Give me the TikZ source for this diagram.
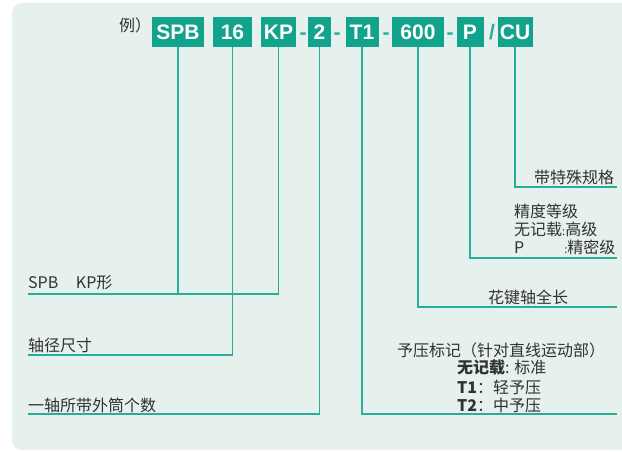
\documentclass[tikz,border=0pt]{standalone}
\usepackage{fontspec}
\setmainfont{Noto Sans CJK SC}
\newfontfamily\codefont{Liberation Sans}
\definecolor{bgcol}{RGB}{230,240,237}
\definecolor{boxcol}{RGB}{18,163,140}
\definecolor{leadcol}{RGB}{38,174,154}
\definecolor{txtcol}{RGB}{50,50,50}
\begin{document}
\begin{tikzpicture}[x=1pt, y=-1pt,
  codebox/.style={fill=boxcol, text=white, font=\codefont\bfseries\fontsize{21}{21}\selectfont, minimum height=30pt, inner xsep=1pt, text height=15pt, text depth=0pt},
  sep/.style={text=leadcol, font=\codefont\bfseries\fontsize{21}{21}\selectfont, inner sep=0pt, anchor=base},
  lbl/.style={text=txtcol, font=\fontsize{16}{18}\selectfont, inner sep=0pt, anchor=west},
  lead/.style={draw=leadcol, line width=1.3pt}]
\clip (0,0) rectangle (622,452);
\useasboundingbox (0,0) rectangle (622,452);
\fill[bgcol, rounded corners=10pt] (12,3) rectangle (640,450);

\node (ex) at (119,25) [lbl] {例）};
\node (spb) at (178,32) [codebox, minimum width=52pt] {SPB};
\node (n16) at (232.5,32) [codebox, minimum width=39pt] {16};
\node (kp) at (278.5,32) [codebox, minimum width=35pt] {KP};
\node (n2) at (319.5,32) [codebox, minimum width=23pt] {2};
\node (t1) at (362,32) [codebox, minimum width=33pt] {T1};
\node (n600) at (418,32) [codebox, minimum width=52pt] {600};
\node (p) at (470,32) [codebox, minimum width=27pt] {P};
\node (cu) at (515,32) [codebox, minimum width=35pt] {CU};

\node (s1) at (303,39.5) [sep] {-};
\node (s2) at (337,39.5) [sep] {-};
\node (s3) at (386,39.5) [sep] {-};
\node (s4) at (450,39.5) [sep] {-};
\node (s5) at (492,39.5) [sep] {/};

\coordinate (kpend) at (28,294);
\coordinate (diaend) at (28,355);
\coordinate (numend) at (28,414);
\coordinate (preend) at (617,414);
\coordinate (lenend) at (617,307);
\coordinate (accend) at (617,258);
\coordinate (cuend) at (617,187);

\draw[lead] (spb.south) -- (spb.south |- kpend);
\draw[lead] (kp.south) |- (kpend);
\draw[lead] (n16.south) |- (diaend);
\draw[lead] (n2.south) |- (numend);
\draw[lead] (t1.south) |- (preend);
\draw[lead] (n600.south) |- (lenend);
\draw[lead] (p.south) |- (accend);
\draw[lead] (cu.south) |- (cuend);

\node (type) at (28,283) [lbl] {SPB\hspace{1.1em}KP形};
\node (dia) at (28,345) [lbl] {轴径尺寸};
\node (num) at (28,405) [lbl] {一轴所带外筒个数};

\node (spec) at (534,177) [lbl] {带特殊规格};
\node (acc) at (514,211) [lbl] {精度等级};
\node (acc1) at (514,229) [lbl] {无记载{\fontsize{11}{11}\selectfont :}高级};
\node (acc2) at (514,247) [lbl] {P\hspace{2.5em}{\fontsize{11}{11}\selectfont :}精密级};
\node (len) at (488,297) [lbl] {花键轴全长};
\node (pre) at (397,350) [lbl] {予压标记（针对直线运动部）};
\node (pre0) at (457,368) [lbl] {\textbf{无记载}: 标准};
\node (pre1) at (457,387) [lbl] {\textbf{T1}：轻予压};
\node (pre2) at (457,405) [lbl] {\textbf{T2}：中予压};
\end{tikzpicture}
\end{document}
